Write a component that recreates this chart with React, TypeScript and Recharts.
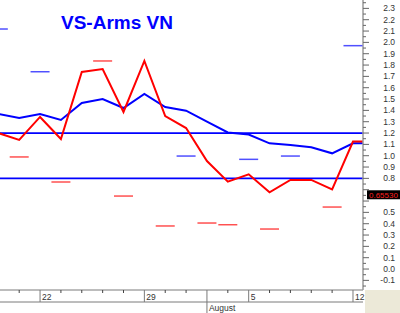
import React from 'react';
import { ComposedChart, Line, Scatter, XAxis, YAxis, ReferenceLine } from 'recharts';

// trading days, Jul 18 .. Aug 13
const dayLabels = ['18', '19', '22', '23', '24', '25', '26', '29', '30', '31', '1', '2', '5', '6', '7', '8', '9', '12', '13'];
const weekStarts = [2, 7, 12, 17];
const monthStarts = [10];
const monthLabels = ['August'];

const vsArms = [1.2, 1.139, 1.342, 1.147, 1.739, 1.765, 1.386, 1.836, 1.35, 1.244, 0.953, 0.771, 0.836, 0.677, 0.786, 0.786, 0.703, 1.125, 1.125];
const vsArmsAvg = [1.368, 1.333, 1.368, 1.315, 1.465, 1.5, 1.421, 1.545, 1.43, 1.397, 1.3, 1.205, 1.187, 1.109, 1.094, 1.074, 1.021, 1.109, 1.109];

const redDashIdx = [1, 3, 5, 6, 8, 10, 11, 13, 16];
const redDashVal = [0.989, 0.768, 1.836, 0.644, 0.38, 0.406, 0.391, 0.353, 0.547];
const blueDashIdx = [0, 2, 9, 12, 14, 17];
const blueDashVal = [2.118, 1.741, 0.997, 0.968, 0.997, 1.971];

const bandLevels = [1.2, 0.8];
const lastValue = 0.6553;
const yTicks = Array.from({ length: 52 }, (_, k) => Math.round((-0.15 + k * 0.05) * 100) / 100);

const data = dayLabels.map((d, i) => ({ i, day: d, vs: vsArms[i], avg: vsArmsAvg[i] }));
const redDashes = redDashIdx.map((i, k) => ({ i, v: redDashVal[k] }));
const blueDashes = blueDashIdx.map((i, k) => ({ i, v: blueDashVal[k] }));

const FONT = '"Liberation Sans", Arial, sans-serif';
const AXIS = '#7a7a7a';

function YTick(props: any) {
  const { x, y, payload } = props;
  const v = payload.value;
  const major = Math.abs(Math.round(v * 10) - v * 10) < 1e-6;
  // the label under the last-value box is hidden, as in the source chart
  const hidden = Math.abs(v - lastValue) < 0.06;
  return (
    <g>
      <line x1={x} x2={x + (major ? 6 : 3)} y1={y} y2={y} stroke="#666" />
      {major && !hidden && (
        <text x={395} y={y} dy={3} textAnchor="end" fontSize={8.5} fontFamily={FONT} fill="#333">
          {v.toFixed(1)}
        </text>
      )}
    </g>
  );
}

function DayTick(props: any) {
  const { x, y, payload } = props;
  const i = payload.value;
  if (monthStarts.includes(i)) {
    return <line x1={x} x2={x} y1={y} y2={y + 12} stroke={AXIS} />;
  }
  if (weekStarts.includes(i)) {
    return (
      <g>
        <line x1={x} x2={x} y1={y} y2={y + 12} stroke={AXIS} />
        <text x={x + 2} y={y + 9.5} fontSize={8.5} fontFamily={FONT} fill="#333">
          {dayLabels[i]}
        </text>
      </g>
    );
  }
  return <line x1={x} x2={x} y1={y} y2={y + 3} stroke="#444" />;
}

function MonthTick(props: any) {
  const { x, y, payload } = props;
  const k = monthStarts.indexOf(payload.value);
  return (
    <g>
      <line x1={x} x2={x} y1={y} y2={y + 11} stroke={AXIS} />
      <text x={x + 2} y={y + 9} fontSize={8.5} fontFamily={FONT} fill="#333">
        {monthLabels[k]}
      </text>
    </g>
  );
}

function dash(color: string) {
  return (p: any) => (
    <line x1={p.cx - 9.5} x2={p.cx + 9.5} y1={p.cy} y2={p.cy} stroke={color} strokeWidth={1.5} />
  );
}

function ValueBox(props: any) {
  const vb = props.viewBox;
  const x = vb.x + vb.width + 4;
  return (
    <g>
      <rect x={x} y={vb.y - 4.5} width={34} height={9} fill="#000" />
      <text x={x + 2} y={vb.y + 3} fontSize={8} fontFamily={FONT} fill="#ff2020">
        {lastValue.toFixed(5)}
      </text>
    </g>
  );
}

export default function App() {
  return (
    <div style={{ position: 'absolute', left: 0, top: 0, width: 400, height: 313, background: '#fff' }}>
      <ComposedChart width={400} height={313} data={data} margin={{ top: 0, right: 0, bottom: 0, left: 0 }}>
        <XAxis
          dataKey="i"
          type="number"
          domain={[0.08, 17.48]}
          allowDataOverflow
          ticks={[1, 2, 3, 4, 5, 6, 7, 8, 9, 10, 11, 12, 13, 14, 15, 16, 17]}
          height={12}
          tickSize={0}
          tickMargin={0}
          tickLine={false}
          axisLine={{ stroke: AXIS }}
          tick={<DayTick />}
          interval={0}
        />
        <XAxis
          xAxisId="month"
          dataKey="i"
          type="number"
          domain={[0.08, 17.48]}
          allowDataOverflow
          ticks={monthStarts}
          height={11}
          tickSize={0}
          tickMargin={0}
          tickLine={false}
          axisLine={{ stroke: AXIS }}
          tick={<MonthTick />}
          interval={0}
        />
        <YAxis
          orientation="right"
          type="number"
          domain={[-0.185, 2.374]}
          allowDataOverflow
          ticks={yTicks}
          width={37}
          tickSize={0}
          tickMargin={0}
          tickLine={false}
          axisLine={{ stroke: '#9a9a9a', strokeWidth: 1.5 }}
          tick={<YTick />}
          interval={0}
        />
        {bandLevels.map((b) => (
          <ReferenceLine key={b} y={b} stroke="#0000ff" strokeWidth={1.8} />
        ))}
        <Scatter data={redDashes} dataKey="v" shape={dash('#ff5050')} isAnimationActive={false} />
        <Scatter data={blueDashes} dataKey="v" shape={dash('#5050ff')} isAnimationActive={false} />
        <Line dataKey="avg" stroke="#0000ff" strokeWidth={2} dot={false} activeDot={false} isAnimationActive={false} />
        <Line dataKey="vs" stroke="#ff0000" strokeWidth={2} dot={false} activeDot={false} isAnimationActive={false} />
        <ReferenceLine y={lastValue} stroke="none" label={<ValueBox />} />
      </ComposedChart>
      <div style={{ position: 'absolute', left: 365, top: 290, width: 35, height: 23, background: '#ece9d8' }} />
      <div
        style={{
          position: 'absolute',
          left: 61,
          top: 12,
          fontFamily: FONT,
          fontWeight: 'bold',
          fontSize: 19,
          lineHeight: '22px',
          color: '#0000ff',
          whiteSpace: 'nowrap',
        }}
      >
        VS-Arms VN
      </div>
    </div>
  );
}
